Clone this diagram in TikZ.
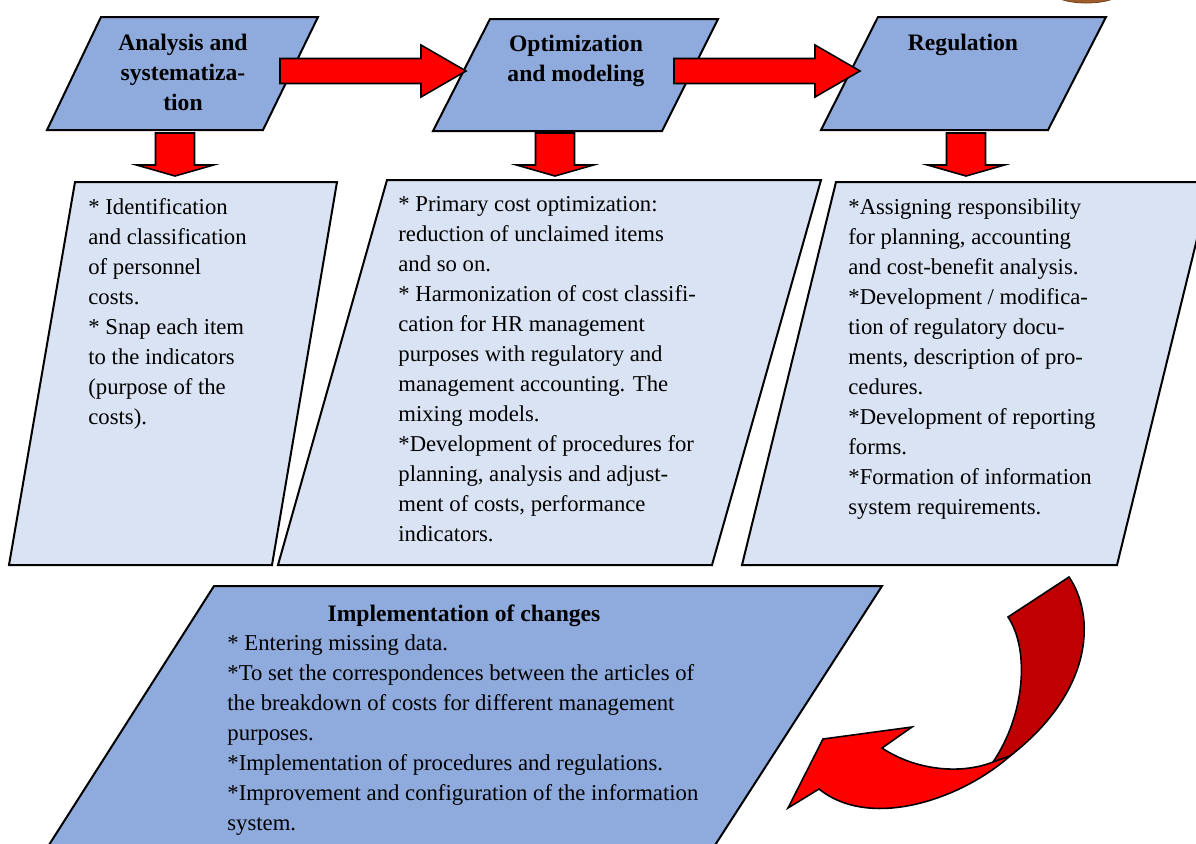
\documentclass[tikz,border=0pt]{standalone}
\usepackage{fontspec}
\setmainfont{Liberation Serif}
\usepackage{xcolor}
\usepackage{tikz}
\usetikzlibrary{calc,positioning}

\definecolor{boxblue}{RGB}{143,170,220}
\definecolor{boxpale}{RGB}{218,227,243}
\definecolor{arrowred}{RGB}{255,0,0}
\definecolor{arrowdark}{RGB}{192,0,0}
\definecolor{knobbrown}{RGB}{160,92,40}

\tikzset{
  stagebox/.style={fill=boxblue,draw=black,line width=1pt},
  notebox/.style={fill=boxpale,draw=black,line width=1pt},
  blockarrow/.style={fill=arrowred,draw=black,line width=0.8pt},
  backarrow/.style={fill=arrowdark,draw=black,line width=0.8pt},
  stagetitle/.style={font=\fontsize{11.8}{15}\selectfont\bfseries,align=center,anchor=north,inner sep=0pt},
  notetext/.style={font=\fontsize{11.35}{15}\selectfont,align=left,anchor=north west,inner sep=0pt}
}

% 水平块箭头: #1 起点, #2 箭尖
\newcommand{\rightblock}[2]{%
  \filldraw[blockarrow] ($(#1)+(0,-12.5)$) -- ($(#2)+(-45,-12.5)$) -- ($(#2)+(-45,-26)$) -- (#2)
    -- ($(#2)+(-45,26)$) -- ($(#2)+(-45,12.5)$) -- ($(#1)+(0,12.5)$) -- cycle;}
% 向下块箭头: #1 起点, #2 箭尖
\newcommand{\downblock}[2]{%
  \filldraw[blockarrow] ($(#1)+(-19.5,0)$) -- ($(#2)+(-19.5,-11)$) -- ($(#2)+(-38.5,-11)$) -- (#2)
    -- ($(#2)+(38.5,-11)$) -- ($(#2)+(19.5,-11)$) -- ($(#1)+(19.5,0)$) -- cycle;}

\begin{document}
\begin{tikzpicture}[x=0.5pt,y=-0.5pt]
  \useasboundingbox (0,0) rectangle (1196,843);
  \clip (0,0) rectangle (1196,843); %只显示原图区域
  \filldraw[fill=knobbrown,draw=knobbrown!70!black,line width=0.4pt] (1086.5,-12) ellipse [x radius=39,y radius=15];

  % 上排三个阶段
  \filldraw[stagebox] (101,17) -- (318,17) -- (263,130) -- (47,130) -- cycle;
  \filldraw[stagebox] (490,19) -- (718,19) -- (662,131) -- (433,131) -- cycle;
  \filldraw[stagebox] (878,17) -- (1106,17) -- (1048,130) -- (821,130) -- cycle;
  \node[stagetitle] (analysis) at (183,34) {Analysis and\\systematiza-\\tion};
  \node[stagetitle] (optimization) at (576,35) {Optimization\\and modeling};
  \node[stagetitle] (regulation) at (963,34) {Regulation};

  % 中排说明框
  \filldraw[notebox] (75,182) -- (337,182) -- (272,565) -- (9,565) -- cycle;
  \filldraw[notebox] (387,180) -- (821,180) -- (712,565) -- (278,565) -- cycle;
  \filldraw[notebox] (836,182) -- (1211,182) -- (1117,565) -- (742,565) -- cycle;
  \node[notetext] (analysisnote) at (88,198) {* Identification\\and classification\\of personnel\\costs.\\* Snap each item\\to the indicators\\(purpose of the\\costs).};
  \node[notetext] (optimizationnote) at (398,196) {* Primary cost optimization:\\reduction of unclaimed items\\and so on.\\* Harmonization of cost classifi-\\cation for HR management\\purposes with regulatory and\\management accounting. The\\mixing models.\\*Development of procedures for\\planning, analysis and adjust-\\ment of costs, performance\\indicators.};
  \node[notetext] (regulationnote) at (848,198) {*Assigning responsibility\\for planning, accounting\\and cost-benefit analysis.\\*Development / modifica-\\tion of regulatory docu-\\ments, description of pro-\\cedures.\\*Development of reporting\\forms.\\*Formation of information\\system requirements.};

  % 下方实施框
  \filldraw[stagebox] (214,586) -- (882,586) -- (699,870) -- (33,870) -- cycle;
  \node[stagetitle] (implementation) at (464,604) {Implementation of changes};
  \node[notetext] (implementationnote) at (227,634) {* Entering missing data.\\*To set the correspondences between the articles of\\the breakdown of costs for different management\\purposes.\\*Implementation of procedures and regulations.\\*Improvement and configuration of the information\\system.};

  % 块箭头
  \coordinate (a1from) at (280,71);  \coordinate (a1to) at (466,71);
  \coordinate (a2from) at (674,71);  \coordinate (a2to) at (860,71);
  \coordinate (d1from) at (175,133); \coordinate (d1to) at (175,176);
  \coordinate (d2from) at (555,133); \coordinate (d2to) at (555,176);
  \coordinate (d3from) at (966,133); \coordinate (d3to) at (966,176);
  \rightblock{a1from}{a1to}
  \rightblock{a2from}{a2to}
  \downblock{d1from}{d1to}
  \downblock{d2from}{d2to}
  \downblock{d3from}{d3to}

  % 弯曲箭头: 先画深红的背面, 再画红色正面
  \filldraw[backarrow] (1069,577) .. controls (1095,615) and (1095,690) .. (1010,756)
    -- (993,762) .. controls (1025,715) and (1030,650) .. (1008,617) -- cycle;
  \filldraw[blockarrow] (1010,756) .. controls (960,800) and (870,830) .. (819,789)
    -- (788,808) -- (823,739) -- (912,727) -- (882,748)
    .. controls (915,770) and (960,775) .. (993,762) -- cycle;
\end{tikzpicture}
\end{document}
